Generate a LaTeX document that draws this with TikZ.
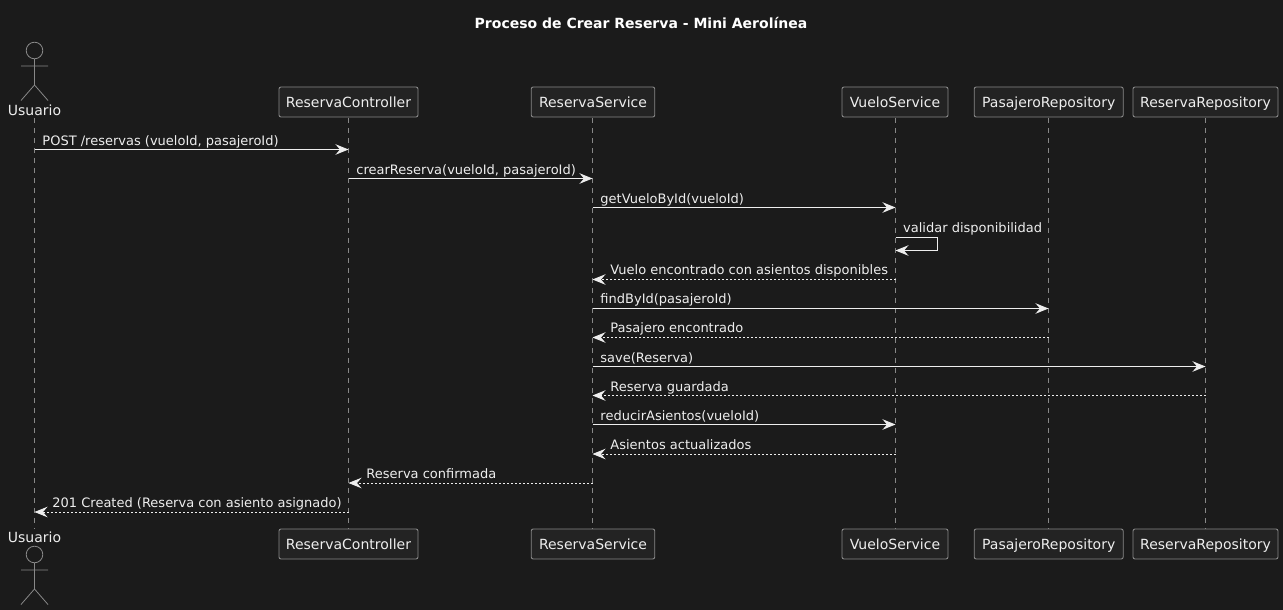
\documentclass[tikz,border=0pt]{standalone}
\usepackage{fontspec}
\setmainfont{DejaVu Sans}
\usetikzlibrary{positioning}
\usetikzlibrary{arrows.meta}
\definecolor{fondo}{HTML}{1B1B1B}
\definecolor{caja}{HTML}{232323}
\definecolor{borde}{HTML}{888888}
\definecolor{texto}{HTML}{EEEEEE}
\tikzset{
  participante/.style={draw=borde,fill=caja,rounded corners=2pt,line width=0.9pt,text=texto,
    minimum height=30pt,inner xsep=0pt,inner ysep=0pt,text height=10.5pt,text depth=0pt,
    font=\fontsize{14}{16}\selectfont},
  nombre/.style={text=texto,inner sep=0pt,font=\fontsize{14}{16}\selectfont},
  vida/.style={draw=borde,line width=0.8pt,dash pattern=on 5pt off 5pt},
  msg/.style={draw=texto,line width=0.9pt,-{Stealth[length=13pt,width=10.5pt,inset=4.5pt]}},
  ret/.style={msg,dash pattern=on 2pt off 2pt},
  etiqueta/.style={text=texto,inner sep=0pt,anchor=base west,font=\fontsize{13}{15}\selectfont},
  actor/.pic={
    \draw[borde,line width=0.8pt] (0,0) circle (8.3pt);
    \draw[borde,line width=0.8pt] (0,8.3) -- (0,34.5) (-13.5,15.5) -- (13.5,15.5)
      (-13.5,50) -- (0,34.5) -- (13.5,50);
  }
}
\begin{document}
\begin{tikzpicture}[x=1pt,y=-1pt]
  \useasboundingbox[fill=fondo] (0,0) rectangle (1283,610);
  \node (titulo) at (641,23) [text=white,font=\fontsize{14}{16}\selectfont\bfseries] {Proceso de Crear Reserva - Mini Aerolínea};
  % participantes arriba
  \pic at (34.5,50.5) {actor};
  \node (usuarioA) at (34.5,110) [nombre] {Usuario};
  \node (controllerA) at (348.5,102) [participante,minimum width=139pt] {ReservaController};
  \node (serviceA) at (593,102) [participante,minimum width=123.5pt] {ReservaService};
  \node (vueloA) at (895,102) [participante,minimum width=106pt] {VueloService};
  \node (pasajeroA) at (1048.7,102) [participante,minimum width=149pt] {PasajeroRepository};
  \node (repoA) at (1205.5,102) [participante,minimum width=145pt] {ReservaRepository};
  % participantes abajo
  \pic at (34.5,554.5) {actor};
  \node (usuarioB) at (34.5,537) [nombre] {Usuario};
  \node (controllerB) at (348.5,544) [participante,minimum width=139pt] {ReservaController};
  \node (serviceB) at (593,544) [participante,minimum width=123.5pt] {ReservaService};
  \node (vueloB) at (895,544) [participante,minimum width=106pt] {VueloService};
  \node (pasajeroB) at (1048.7,544) [participante,minimum width=149pt] {PasajeroRepository};
  \node (repoB) at (1205.5,544) [participante,minimum width=145pt] {ReservaRepository};
  % lineas de vida
  \coordinate (usuario) at (34.5,118);
  \coordinate (controller) at (348.5,118);
  \coordinate (service) at (592.5,118);
  \coordinate (vuelo) at (895.5,118);
  \coordinate (pasajero) at (1048.5,118);
  \coordinate (repo) at (1205.5,118);
  \draw[vida] (usuario) -- (usuario |- controllerB.north);
  \draw[vida] (controller) -- (controller |- controllerB.north);
  \draw[vida] (service) -- (service |- controllerB.north);
  \draw[vida] (vuelo) -- (vuelo |- controllerB.north);
  \draw[vida] (pasajero) -- (pasajero |- controllerB.north);
  \draw[vida] (repo) -- (repo |- controllerB.north);
  % mensajes
  \draw[msg] (usuario |- 0,149.5) to node[etiqueta,pos=0,xshift=7.5pt,yshift=4pt] {POST /reservas (vueloId, pasajeroId)} (controller |- 0,149.5);
  \draw[msg] (controller |- 0,178.5) to node[etiqueta,pos=0,xshift=7.5pt,yshift=4pt] {crearReserva(vueloId, pasajeroId)} (service |- 0,178.5);
  \draw[msg] (service |- 0,207.5) to node[etiqueta,pos=0,xshift=7.5pt,yshift=4pt] {getVueloById(vueloId)} (vuelo |- 0,207.5);
  \draw[msg] (vuelo |- 0,237.5) -- ++(42,0) -- ++(0,13) -- (vuelo |- 0,250.5);
  \node (validar) at (903,232) [etiqueta] {validar disponibilidad};
  \draw[ret] (vuelo |- 0,279.5) to node[etiqueta,pos=1,xshift=17.5pt,yshift=5pt] {Vuelo encontrado con asientos disponibles} (service |- 0,279.5);
  \draw[msg] (service |- 0,308.5) to node[etiqueta,pos=0,xshift=7.5pt,yshift=5pt] {findById(pasajeroId)} (pasajero |- 0,308.5);
  \draw[ret] (pasajero |- 0,337.5) to node[etiqueta,pos=1,xshift=17.5pt,yshift=5pt] {Pasajero encontrado} (service |- 0,337.5);
  \draw[msg] (service |- 0,366.5) to node[etiqueta,pos=0,xshift=7.5pt,yshift=4pt] {save(Reserva)} (repo |- 0,366.5);
  \draw[ret] (repo |- 0,395.5) to node[etiqueta,pos=1,xshift=17.5pt,yshift=4pt] {Reserva guardada} (service |- 0,395.5);
  \draw[msg] (service |- 0,424.5) to node[etiqueta,pos=0,xshift=7.5pt,yshift=4pt] {reducirAsientos(vueloId)} (vuelo |- 0,424.5);
  \draw[ret] (vuelo |- 0,454) to node[etiqueta,pos=1,xshift=17.5pt,yshift=5pt] {Asientos actualizados} (service |- 0,454);
  \draw[ret] (service |- 0,483) to node[etiqueta,pos=1,xshift=17.5pt,yshift=5pt] {Reserva confirmada} (controller |- 0,483);
  \draw[ret] (controller |- 0,512) to node[etiqueta,pos=1,xshift=17.5pt,yshift=5pt] {201 Created (Reserva con asiento asignado)} (usuario |- 0,512);
\end{tikzpicture}
\end{document}
